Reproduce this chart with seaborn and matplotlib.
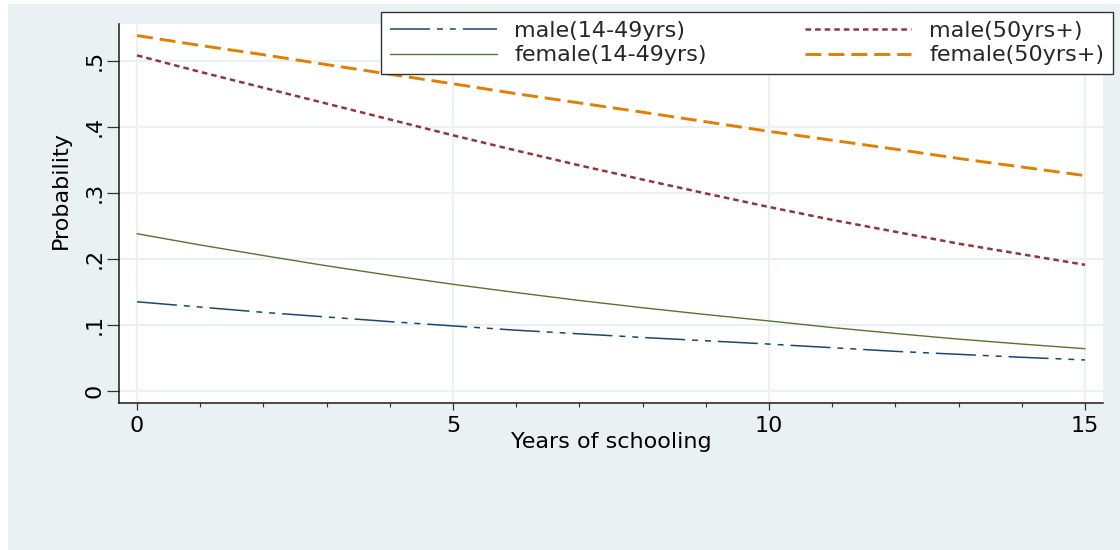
import matplotlib
matplotlib.use("Agg")
import matplotlib.pyplot as plt
import seaborn as sns
import pandas as pd
from matplotlib.patches import Rectangle

# ---------------- data ----------------
years = list(range(16))
male_young = [0.135, 0.127, 0.119, 0.112, 0.105, 0.0985, 0.092, 0.0865, 0.081, 0.076,
              0.071, 0.0655, 0.060, 0.0555, 0.051, 0.047]
female_young = [0.238, 0.221, 0.205, 0.1895, 0.175, 0.1615, 0.149, 0.137, 0.126, 0.1157,
                0.106, 0.096, 0.087, 0.0785, 0.071, 0.064]
male_old = [0.508, 0.483, 0.459, 0.435, 0.411, 0.387, 0.364, 0.3415, 0.320, 0.299,
            0.2785, 0.259, 0.241, 0.223, 0.207, 0.191]
female_old = [0.538, 0.523, 0.509, 0.494, 0.4795, 0.465, 0.450, 0.436, 0.422, 0.4075,
              0.393, 0.3795, 0.366, 0.352, 0.339, 0.326]
series_names = ["male(14-49yrs)", "female(14-49yrs)", "male(50yrs+)", "female(50yrs+)"]
y_ticks = [0, 0.1, 0.2, 0.3, 0.4, 0.5]
y_ticklabels = ["0", ".1", ".2", ".3", ".4", ".5"]
x_ticks = [0, 5, 10, 15]

df = pd.DataFrame({
    "years": years * 4,
    "prob": male_young + female_young + male_old + female_old,
    "group": sum([[n] * len(years) for n in series_names], []),
})

# ---------------- style ----------------
sns.set_style("white")
plt.rcParams["font.family"] = ["DejaVu Sans"]
plt.rcParams["lines.scale_dashes"] = False

BG = "#EAF1F3"
W, H = 1120, 550
FS = 16

styles = {
    "male(14-49yrs)": dict(color="#1a476f", lw=1.1, ls=(0, (28.8, 5, 4.3, 5, 4.3, 5))),
    "female(14-49yrs)": dict(color="#55752f", lw=1.0, ls="-"),
    "male(50yrs+)": dict(color="#90353b", lw=1.8, ls=(0, (4.0, 2.9))),
    "female(50yrs+)": dict(color="#e37e00", lw=2.1, ls=(0, (11.5, 5.0))),
}

fig = plt.figure(figsize=(W / 100, H / 100), dpi=100, facecolor="white")
fig.patches.append(Rectangle((8 / W, 0), 1 - 8 / W, 1 - 4 / H, transform=fig.transFigure,
                             facecolor=BG, edgecolor="none", zorder=-10))

ax = fig.add_axes([119 / W, 1 - 403 / H, 984 / W, 379 / H])
ax.set_facecolor("white")

for name in series_names:
    st = styles[name]
    sub = df[df["group"] == name]
    sns.lineplot(data=sub, x="years", y="prob", ax=ax, color=st["color"],
                 linewidth=st["lw"], linestyle=st["ls"], label=name)

ax.set_xlim(-0.285, 15.285)
ax.set_ylim(-0.0182, 0.5555)

ax.set_xticks(x_ticks)
ax.set_xticks(years, minor=True)
ax.set_xticklabels([str(t) for t in x_ticks])
ax.set_yticks(y_ticks)
ax.set_yticklabels(y_ticklabels)

ax.grid(True, which="major", color=BG, linewidth=1.5)
ax.set_axisbelow(True)

for s in ["top", "right"]:
    ax.spines[s].set_visible(False)
for s in ["left", "bottom"]:
    ax.spines[s].set_color("#1a1a1a")
    ax.spines[s].set_linewidth(1.1)

ax.tick_params(axis="x", which="major", length=5, width=0.9, color="#333333",
               direction="out", pad=4, labelsize=FS, labelcolor="black", bottom=True)
ax.tick_params(axis="x", which="minor", length=3, width=0.8, color="#333333",
               direction="out", bottom=True)
ax.tick_params(axis="y", which="major", length=8.6, width=0.9, color="#333333",
               direction="out", pad=2, labelsize=FS, labelcolor="black",
               labelrotation=90, left=True)
for lab in ax.get_yticklabels():
    lab.set_va("center")
    lab.set_ha("right")

ax.set_xlabel("Years of schooling", fontsize=FS, color="black")
ax.xaxis.set_label_coords(0.5, -0.103)
ax.xaxis.label.set_va("center")
ax.set_ylabel("Probability", fontsize=FS, color="black")
ax.yaxis.set_label_coords(-0.0589, 0.562)
ax.yaxis.label.set_va("center")

handles, labels = ax.get_legend_handles_labels()
if ax.get_legend() is not None:
    ax.get_legend().remove()
leg = fig.legend(handles, labels, loc="upper left",
                 bbox_to_anchor=(381 / W, 1 - 72 / H, 732 / W, 60 / H),
                 mode="expand", ncol=2, fontsize=FS, frameon=True, fancybox=False,
                 edgecolor="#333333", facecolor="white", framealpha=1,
                 borderaxespad=0, handlelength=4.8, handletextpad=0.8,
                 borderpad=0.4, labelspacing=0.2, columnspacing=2.0)
leg.get_frame().set_linewidth(1.0)

fig.savefig("out.png", dpi=100, facecolor=fig.get_facecolor())
